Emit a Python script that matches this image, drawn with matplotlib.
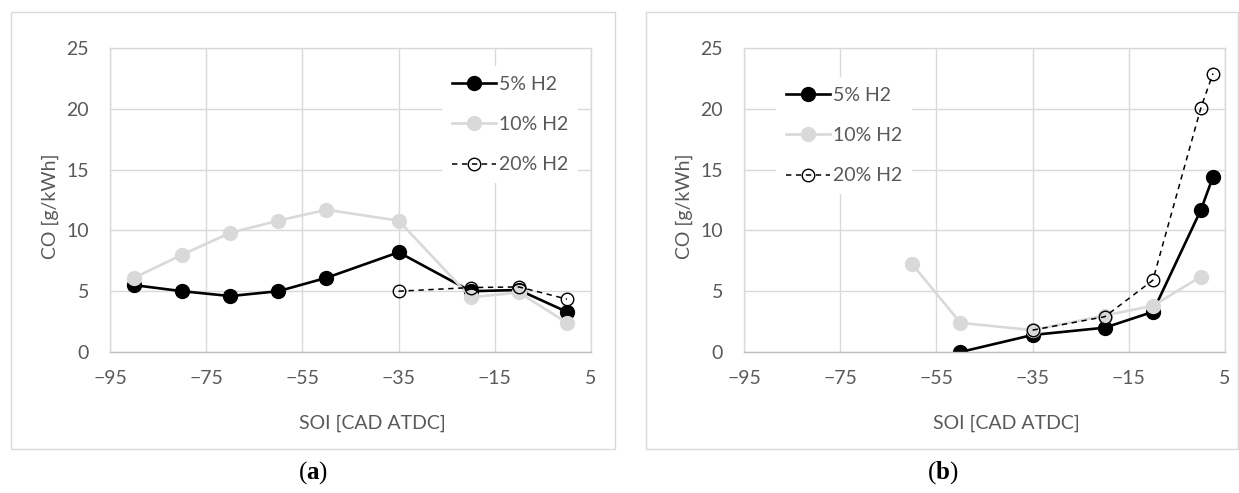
import matplotlib
matplotlib.use("Agg")
import matplotlib.pyplot as plt
from matplotlib.patches import Rectangle

# ---- data ----
xa_5 = [-90, -80, -70, -60, -50, -35, -20, -10, 0]
ya_5 = [5.5, 5.0, 4.6, 5.0, 6.1, 8.2, 5.0, 5.1, 3.3]
xa_10 = [-90, -80, -70, -60, -50, -35, -20, -10, 0]
ya_10 = [6.1, 8.0, 9.8, 10.8, 11.7, 10.8, 4.5, 4.9, 2.4]
xa_20 = [-35, -20, -10, 0]
ya_20 = [5.0, 5.3, 5.35, 4.35]

xb_5 = [-50, -35, -20, -10, 0, 2.5]
yb_5 = [0.0, 1.4, 2.0, 3.3, 11.7, 14.4]
xb_10 = [-60, -50, -35, -20, -10, 0]
yb_10 = [7.2, 2.4, 1.8, 3.0, 3.8, 6.2]
xb_20 = [-35, -20, -10, 0, 2.5]
yb_20 = [1.8, 2.9, 5.9, 20.1, 22.9]

labels = ["5% H2", "10% H2", "20% H2"]
xticks = [-95, -75, -55, -35, -15, 5]
yticks = [0, 5, 10, 15, 20, 25]

TXT = "#595959"
GRID = "#d9d9d9"
LGREY = "#d9d9d9"
FS = 14

plt.rcParams['font.family'] = ['Lato', 'DejaVu Sans']
plt.rcParams['mathtext.fontset'] = 'custom'
plt.rcParams['mathtext.bf'] = 'Liberation Serif:bold'
plt.rcParams['mathtext.rm'] = 'Liberation Serif'

W, H = 1239, 493
fig = plt.figure(figsize=(W / 100, H / 100), dpi=100)


def fx(px):
    return px / W


def fy(py):
    return 1 - py / H


def panel(x0, x1, series, leg_xy, frame, cap, capx):
    # outer chart frame
    fig.patches.append(Rectangle((fx(frame[0]), fy(frame[3])),
                                 fx(frame[2] - frame[0]), (frame[3] - frame[1]) / H,
                                 transform=fig.transFigure, fill=False,
                                 edgecolor=GRID, linewidth=1.0))
    ax = fig.add_axes([fx(x0), fy(352), fx(x1 - x0), (352 - 48) / H])
    (x5, y5), (x10, y10), (x20, y20) = series
    ax.plot(x5, y5, color="black", lw=1.9, marker="o", ms=10, label=labels[0])
    ax.plot(x10, y10, color=LGREY, lw=1.9, marker="o", ms=10, label=labels[1])
    ax.plot(x20, y20, color="black", lw=1.1, ls=(0, (3.5, 3)), marker="o", ms=9,
            mfc="none", mec="black", mew=1.0, label=labels[2])
    ax.set_xlim(-95, 5)
    ax.set_ylim(0, 25)
    ax.set_xticks(xticks)
    ax.set_yticks(yticks)
    ax.set_xticklabels(["\u2212%d" % -t if t < 0 else str(t) for t in xticks])
    ax.grid(True, color=GRID, lw=1.0)
    ax.set_axisbelow(True)
    for s in ax.spines.values():
        s.set_color(GRID)
        s.set_linewidth(1.0)
    ax.spines['bottom'].set_color("#bfbfbf")
    ax.tick_params(length=0, labelsize=FS, colors=TXT)
    ax.tick_params(axis='y', pad=15)
    ax.tick_params(axis='x', pad=13)
    ax.set_xlabel("SOI [CAD ATDC]", fontsize=FS, color=TXT)
    ax.set_ylabel("CO [g/kWh]", fontsize=FS, color=TXT)
    ax.xaxis.set_label_coords(0.545, -0.205)
    ax.yaxis.set_label_coords(-0.105, 0.48)
    leg = ax.legend(loc="upper left", bbox_to_anchor=leg_xy, fontsize=FS,
                    frameon=True, fancybox=False, framealpha=1,
                    edgecolor="none", facecolor="white", handlelength=2.3,
                    handletextpad=0.15, labelspacing=1.2, borderpad=0.5,
                    borderaxespad=0)
    for t in leg.get_texts():
        t.set_color(TXT)
    fig.text(fx(capx), fy(473), cap, ha="center", va="center", fontsize=18,
             family="Liberation Serif")
    return ax


panel(110, 591, [(xa_5, ya_5), (xa_10, ya_10), (xa_20, ya_20)],
      ((442 - 110) / 481, (352 - 66) / 304), (11, 12, 615, 449),
      r"($\mathbf{a}$)", 313)
panel(744, 1225, [(xb_5, yb_5), (xb_10, yb_10), (xb_20, yb_20)],
      ((776 - 744) / 481, (352 - 77) / 304), (646, 12, 1238, 449),
      r"($\mathbf{b}$)", 943)

fig.savefig("out.png", dpi=100)
